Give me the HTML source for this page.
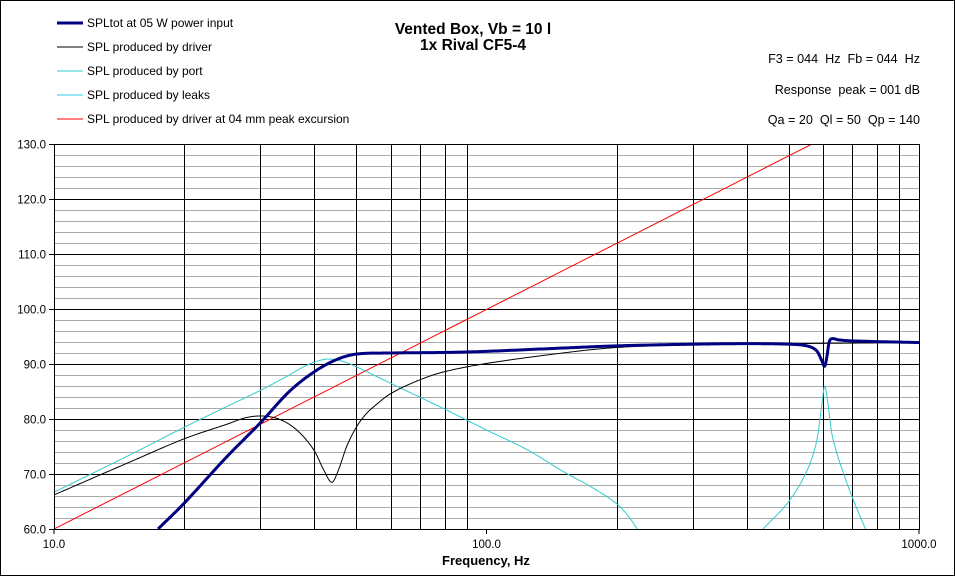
<!DOCTYPE html>
<html><head><meta charset="utf-8"><style>
body{margin:0;background:#fff}
svg{display:block;font-family:"Liberation Sans",Arial,sans-serif}
</style></head><body>
<svg id="s" width="955" height="576" viewBox="0 0 955 576" xmlns="http://www.w3.org/2000/svg">
<rect x="0.5" y="0.5" width="954" height="575" fill="#fff" stroke="#000"/>
<g id="grid"></g>
<g id="curves"></g>
<rect x="54.5" y="144.5" width="865" height="385" fill="none" stroke="#000"/>
<g font-size="12" fill="#000" style="white-space:pre">
<line x1="57" y1="23" x2="83" y2="23" stroke="#000080" stroke-width="3"/>
<text x="87" y="27">SPLtot at 05 W power input</text>
<line x1="57" y1="47" x2="83" y2="47" stroke="#000"/>
<text x="87" y="51">SPL produced by driver</text>
<line x1="57" y1="71" x2="83" y2="71" stroke="#33cccc"/>
<text x="87" y="75">SPL produced by port</text>
<line x1="57" y1="95" x2="83" y2="95" stroke="#33ccee"/>
<text x="87" y="99">SPL produced by leaks</text>
<line x1="57" y1="119" x2="83" y2="119" stroke="#ff0000"/>
<text x="87" y="123">SPL produced by driver at 04 mm peak excursion</text>
<g font-size="12.6">
<text x="920" y="63" text-anchor="end" xml:space="preserve">F3 = 044  Hz  Fb = 044  Hz</text>
<text x="920" y="94" text-anchor="end" xml:space="preserve">Response  peak = 001 dB</text>
<text x="920" y="124" text-anchor="end" xml:space="preserve">Qa = 20  Ql = 50  Qp = 140</text>
</g>
</g>
<g font-size="15.5" font-weight="bold" text-anchor="middle">
<text x="473" y="34">Vented Box, Vb = 10 l</text>
<text x="473" y="50">1x Rival CF5-4</text>
<text x="486" y="565" font-size="13">Frequency, Hz</text>
</g>
<g id="labels" font-size="11.5"></g>
</svg>
<script>
const NS="http://www.w3.org/2000/svg";
const fx=f=>54+432.5*Math.log10(f/10), fy=d=>529-(d-60)*5.5;
const g=document.getElementById('grid'),L=document.getElementById('labels'),C=document.getElementById('curves');
function el(p,t,a,txt){const e=document.createElementNS(NS,t);for(const k in a)e.setAttribute(k,a[k]);if(txt)e.textContent=txt;p.appendChild(e);return e;}
for(let d=62;d<130;d+=2){if(d%10)el(g,'line',{x1:54,x2:919,y1:fy(d)+.5,y2:fy(d)+.5,stroke:'#aaa'});}
for(let d=60;d<=130;d+=10){const y=fy(d)+.5;el(g,'line',{x1:49,x2:919,y1:y,y2:y,stroke:'#000'});el(L,'text',{x:46,y:y+4,'text-anchor':'end'},d.toFixed(1));}
for(const dec of [10,100])for(let m=2;m<=9;m++){const x=Math.round(fx(dec*m))+.5;el(g,'line',{x1:x,x2:x,y1:144,y2:529,stroke:'#000'});}
[[10,'10.0'],[100,'100.0'],[1000,'1000.0']].forEach(([f,t])=>{const x=fx(f);el(g,'line',{x1:x,x2:x,y1:529,y2:534,stroke:'#000'});el(L,'text',{x:x,y:548,'text-anchor':'middle'},t);});
function path(pts,col,w){
 const P=pts.map(([f,d])=>[Math.log10(f),d]);let out=[];
 for(let i=0;i<P.length-1;i++){const p0=P[Math.max(0,i-1)],p1=P[i],p2=P[i+1],p3=P[Math.min(P.length-1,i+2)];
  // centripetal-ish: use tangents scaled by segment length
  const h=p2[0]-p1[0];
  const m1=(p2[1]-p0[1])/((p2[0]-p0[0])||1), m2=(p3[1]-p1[1])/((p3[0]-p1[0])||1);
  const N=30;for(let k=0;k<N;k++){const t=k/N,t2=t*t,t3=t2*t;
   const y=(2*t3-3*t2+1)*p1[1]+(t3-2*t2+t)*h*m1+(-2*t3+3*t2)*p2[1]+(t3-t2)*h*m2;
   out.push([p1[0]+h*t,y]);}}
 out.push(P[P.length-1]);
 const s='M'+out.map(([lf,d])=>(54+432.5*(lf-1)).toFixed(2)+','+fy(d).toFixed(2)).join('L');
 el(C,'path',{d:s,fill:'none',stroke:col,'stroke-width':w,'stroke-linejoin':'round','clip-path':'url(#cp)'});}
const defs=el(document.getElementById('s'),'defs',{});const cp=el(defs,'clipPath',{id:'cp'});el(cp,'rect',{x:54,y:144,width:865,height:385});
path([[10,60],[566,130],[1000,140]],'#ff0000',1);
path([[10,66.7],[15,73.5],[20,78.5],[25,82.2],[30,85.2],[35,88],[38,89.6],[41,90.6],[43,90.9],[46,90.6],[50,89.5],[60,86.5],[80,81.8],[100,78],[125,74.3],[150,70.5],[175,67.6],[200,64.6],[212,62.5],[223,60],[235,57]],'#33cccc',1);
path([[420,58.5],[436,60],[500,65],[550,70.5],[580,76],[596,82.5],[605,86],[614,83.5],[630,77],[670,70],[720,63.5],[753,60],[770,58.5]],'#33cccc',1);
path([[10,66.2],[15,72.2],[20,76.4],[25,79],[28,80.3],[31,80.5],[34,79.6],[37,77.5],[40,74.2],[42,70.8],[43.9,68.5],[45.5,70.8],[47.5,75],[50,78.5],[52.5,80.8],[55,82.3],[60,84.6],[70,87.1],[80,88.6],[100,90.1],[150,92],[200,93],[300,93.5],[500,93.7],[1000,93.9]],'#000',1);
path([[17.4,60],[20,64.7],[25,73],[30,79.3],[35,85],[40,88.6],[45,90.8],[50,91.8],[60,92],[80,92.1],[100,92.3],[150,92.9],[200,93.3],[300,93.6],[400,93.7],[500,93.6],[550,93.3],[580,92.4],[597,90.5],[605,89.6],[612,91.2],[620,94],[630,94.6],[650,94.4],[700,94.2],[1000,93.9]],'#000080',3);
</script>
</body></html>
